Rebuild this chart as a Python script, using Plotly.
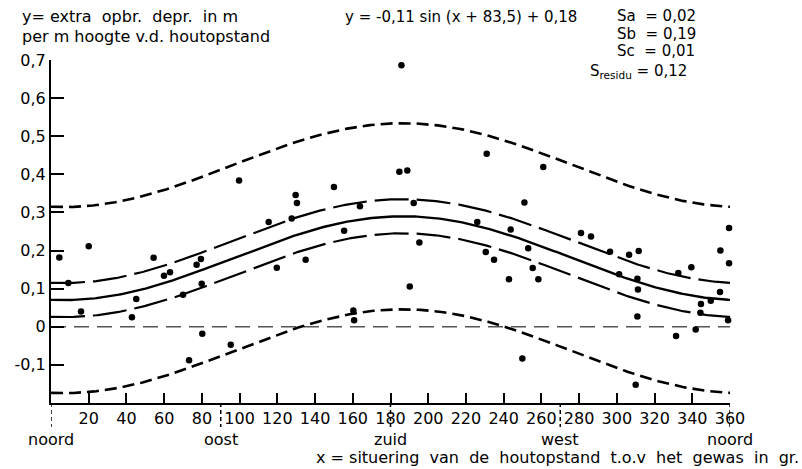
import numpy as np
import plotly.graph_objects as go

# Observed values: x = orientation of the tree stand (degrees), y = extra yield depression (m per m height)
obs_x = [4.4, 20.0, 9.2, 15.9, 45.2, 42.9, 54.4, 59.9, 63.1, 77.2, 79.5, 79.9, 70.0,
         80.2, 95.3, 73.2, 99.7, 115.4, 127.6, 129.7, 130.4, 119.7, 135.0, 150.0,
         155.4, 160.3, 160.7, 163.8, 185.8, 184.7, 188.9, 192.3, 195.3, 190.2, 226.0,
         231.0, 230.5, 234.9, 243.7, 242.8, 249.9, 251.0, 253.0, 255.4, 258.4, 261.0,
         281.0, 286.3, 296.4, 301.2, 306.5, 311.6, 310.9, 311.2, 310.9, 310.0, 331.4,
         332.6, 339.5, 341.8, 344.3, 344.6, 349.8, 354.7, 354.9, 359.5, 359.5, 359.0]
obs_y = [0.182, 0.211, 0.115, 0.040, 0.073, 0.025, 0.181, 0.134, 0.143, 0.163, 0.178, 0.113, 0.084,
         -0.018, -0.047, -0.088, 0.384, 0.275, 0.284, 0.346, 0.325, 0.155, 0.176, 0.367,
         0.252, 0.043, 0.017, 0.316, 0.686, 0.407, 0.410, 0.325, 0.221, 0.106, 0.275,
         0.454, 0.196, 0.176, 0.255, 0.125, -0.083, 0.326, 0.206, 0.154, 0.125, 0.419,
         0.246, 0.237, 0.197, 0.138, 0.189, 0.199, 0.126, 0.098, 0.027, -0.152, -0.024,
         0.141, 0.156, -0.007, 0.037, 0.060, 0.068, 0.091, 0.200, 0.259, 0.167, 0.017]

# Fitted model y = -a sin(x + b) + c and its standard errors
a, b, c = 0.11, 83.5, 0.18
sa, sb, sc, s_res = 0.02, 0.19, 0.01, 0.12
t_mult = 2.0

x_ticks = list(range(20, 361, 20))
y_ticks = [-0.1, 0.0, 0.1, 0.2, 0.3, 0.4, 0.5, 0.6, 0.7]
y_ticktext = ["-0,1", "0", "0,1", "0,2", "0,3", "0,4", "0,5", "0,6", "0,7"]
compass_x = [0, 90, 180, 270, 360]
compass_lbl = ["noord", "oost", "zuid", "west", "noord"]

xs = np.linspace(0, 360, 361)
phi = np.radians(xs + b)
fit = -a * np.sin(phi) + c
se_fit = np.sqrt((np.sin(phi) * sa) ** 2 + (a * np.cos(phi) * sb) ** 2 + sc ** 2)
se_pred = np.sqrt(se_fit ** 2 + s_res ** 2)

FONT = "DejaVu Sans"
FS = 16
fig = go.Figure()

# zero reference line
fig.add_trace(go.Scatter(x=[0, 360], y=[0, 0], mode="lines",
                         line=dict(color="#555555", width=1.5, dash="15px,8px"),
                         hoverinfo="skip"))
# prediction band (outer)
for sgn in (1, -1):
    fig.add_trace(go.Scatter(x=xs, y=fit + sgn * t_mult * se_pred, mode="lines",
                             line=dict(color="black", width=2.6, dash="12px,6px"),
                             hoverinfo="skip"))
# confidence band of the fit (inner)
for sgn in (1, -1):
    fig.add_trace(go.Scatter(x=xs, y=fit + sgn * t_mult * se_fit, mode="lines",
                             line=dict(color="black", width=2.2, dash="34px,8px"),
                             hoverinfo="skip"))
# fitted curve
fig.add_trace(go.Scatter(x=xs, y=fit, mode="lines",
                         line=dict(color="black", width=2.4), hoverinfo="skip"))
# observations
fig.add_trace(go.Scatter(x=obs_x, y=obs_y, mode="markers", cliponaxis=False,
                         marker=dict(color="black", size=6.5)))

L, R, T, B = 51, 72, 60, 66
W, H = 802, 469
pw, ph = W - L - R, H - T - B


def px(xp, yp):
    return (xp - L) / pw, (H - B - yp) / ph


shapes = []
for cx in compass_x:
    shapes.append(dict(type="line", xref="x", yref="paper", x0=cx, x1=cx,
                       y0=0, y1=-0.07, line=dict(color="black", width=1.5, dash="4px,3px")))

ann = []
for cx, lbl in zip(compass_x, compass_lbl):
    ann.append(dict(x=cx, y=px(0, 439)[1], xref="x", yref="paper", text=lbl,
                    showarrow=False, xanchor="center", yanchor="middle",
                    font=dict(size=FS, color="black", family=FONT)))


def txt(s, xp, yp, anchor="left", size=FS):
    xx, yy = px(xp, yp)
    ann.append(dict(x=xx, y=yy, xref="paper", yref="paper", text=s, showarrow=False,
                    xanchor=anchor, yanchor="middle",
                    font=dict(size=size, color="black", family=FONT)))


txt("y= extra  opbr.  depr.  in m", 20, 17)
txt("per m hoogte v.d. houtopstand", 20, 36)
txt("y = -0,11 sin (x + 83,5) + 0,18", 343, 17, size=15)
txt("Sa  = 0,02", 615, 16, size=15)
txt("Sb  = 0,19", 615, 34, size=15)
txt("Sc  = 0,01", 615, 51, size=15)
txt("S<sub>residu</sub> = 0,12", 588, 72, size=15)
txt("x = situering  van  de  houtopstand  t.o.v  het  gewas  in  gr.", 801, 457, "right")

fig.update_layout(
    width=W, height=H, margin=dict(l=L, r=R, t=T, b=B),
    paper_bgcolor="white", plot_bgcolor="white", showlegend=False,
    font=dict(family=FONT, size=FS, color="black"),
    shapes=shapes, annotations=ann,
)
fig.update_xaxes(range=[0, 360], tickvals=x_ticks, ticktext=[str(v) for v in x_ticks],
                 ticks="inside", ticklen=10, tickwidth=1.5, tickcolor="black",
                 showline=True, linecolor="black", linewidth=2, showgrid=False,
                 zeroline=False, tickfont=dict(size=FS))
fig.update_yaxes(range=[-0.2, 0.7], tickvals=y_ticks, ticktext=y_ticktext,
                 ticks="inside", ticklen=13, tickwidth=1.5, tickcolor="black",
                 showline=True, linecolor="black", linewidth=2, showgrid=False,
                 zeroline=False, tickfont=dict(size=FS))

fig.write_html("out.html")
